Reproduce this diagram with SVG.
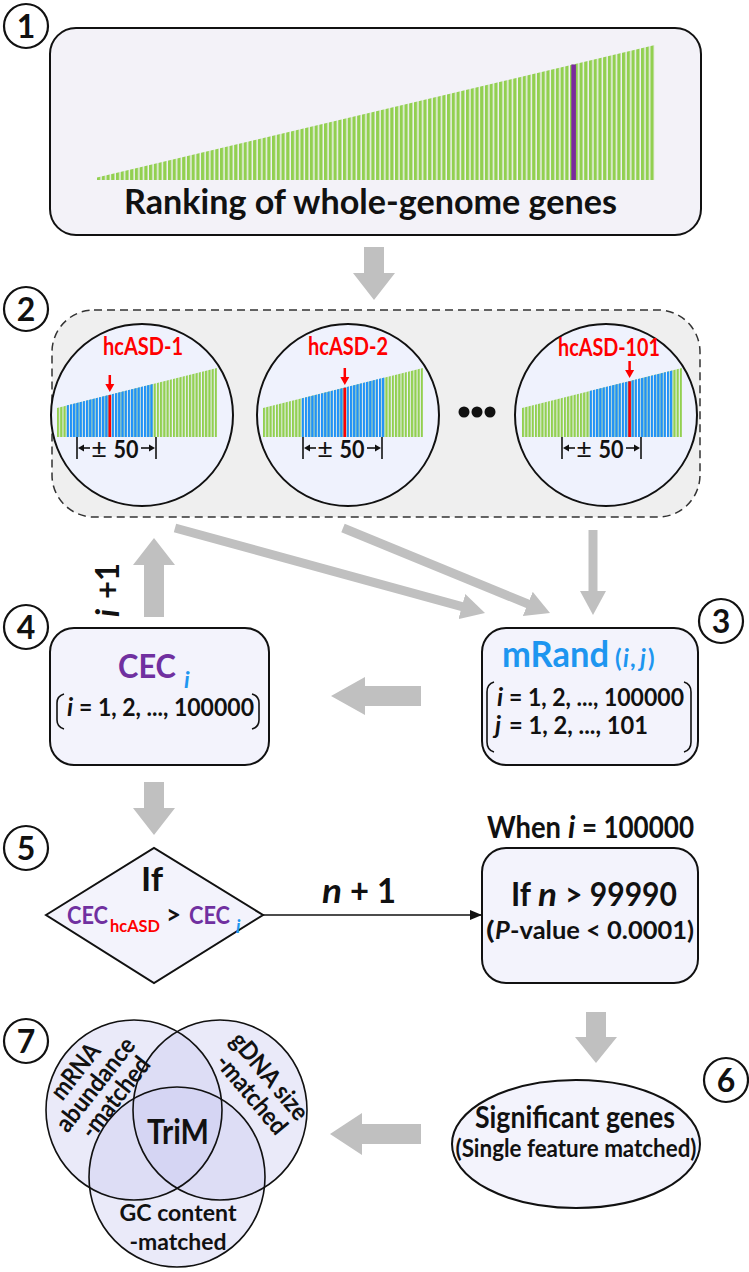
<svg xmlns="http://www.w3.org/2000/svg" width="749" height="1272" viewBox="0 0 749 1272">
<defs>
<style>
.t{font-family:Lato,"Liberation Sans",sans-serif;font-weight:700;fill:#111}
.num{font-size:32px;text-anchor:middle}
.nc{fill:#fff;stroke:#111;stroke-width:2.2}
.box{fill:#f3f3fc;stroke:#111;stroke-width:2}
.mag{fill:#eff2fd;stroke:#111;stroke-width:2}
.ga{fill:#c0c0c0}
.gl{stroke:#c0c0c0;stroke-width:9;fill:none}
.br{fill:none;stroke:#111;stroke-width:1.6}
.tk{stroke:#111;stroke-width:1.6}
.it{font-style:italic}
.pur{fill:#7030a0}
.blu{fill:#1e96f0}
.rd{fill:#ff0000}
.mid{text-anchor:middle}
.pm{font-family:Lato,"Liberation Sans",sans-serif;font-weight:400;fill:#111;text-anchor:middle}
.vf{fill:#c8c8f0;fill-opacity:0.38}
.vs{fill:none;stroke:#111;stroke-width:1.6}
</style>
<pattern id="pTop" patternUnits="userSpaceOnUse" x="97" y="0" width="4.73" height="20"><rect x="0" y="0" width="3.3" height="20" fill="#92d050"/></pattern>
<pattern id="pG" patternUnits="userSpaceOnUse" x="0" y="0" width="3.22" height="20"><rect x="0" y="0" width="2.2" height="20" fill="#92d050"/></pattern>
<pattern id="pB" patternUnits="userSpaceOnUse" x="0" y="0" width="3.22" height="20"><rect x="0" y="0" width="2.2" height="20" fill="#1e90ff"/></pattern>
<marker id="mg" markerUnits="userSpaceOnUse" markerWidth="26" markerHeight="26" refX="4" refY="13" orient="auto"><path d="M0,0 L24,13 L0,26 z" fill="#c0c0c0"/></marker>
<marker id="mb" markerUnits="userSpaceOnUse" markerWidth="12" markerHeight="10" refX="12" refY="5" orient="auto"><path d="M0,0 L12,5 L0,10 z" fill="#111"/></marker>
</defs>

<!-- Step 1 panel -->
<g id="panel1">
<rect x="50" y="28" width="651" height="207" rx="26" fill="#f3f2f8" stroke="#111" stroke-width="2"/>
<polygon points="97,180 97,177.5 655,45 655,180" fill="url(#pTop)"/>
<rect x="571.3" y="64.5" width="4.6" height="115.5" fill="#7a2a9e"/>
<text class="t" x="124" y="214" font-size="35" textLength="493" lengthAdjust="spacingAndGlyphs">Ranking of whole-genome genes</text>
</g>

<!-- Step 2 panel -->
<g id="panel2">
<rect x="52" y="310" width="648" height="207" rx="42" fill="#efefef" stroke="#333" stroke-width="1.5" stroke-dasharray="8,5"/>
</g>

<g id="mag1">
<circle class="mag" cx="142" cy="415" r="91"/>
<g transform="translate(57,0)">
<polygon points="0,437 0,408 160,368 160,437" fill="url(#pG)"/>
<polygon points="9.5,437 9.5,405.6 96,384 96,437" fill="url(#pB)"/>
<rect x="51.5" y="395.1" width="2.6" height="41.9" fill="#ff0000"/>
</g>
<line x1="109.8" y1="375" x2="109.8" y2="385" stroke="#ff0000" stroke-width="2.5"/>
<polygon points="105.3,384 114.3,384 109.8,392" fill="#ff0000"/>
<text class="t rd mid" x="143" y="355" font-size="24" textLength="80" lengthAdjust="spacingAndGlyphs">hcASD-1</text>
<g transform="translate(77,0)">
<line class="tk" x1="0" y1="437" x2="0" y2="459"/>
<line class="tk" x1="5" y1="448" x2="13" y2="448"/>
<polygon points="1,448 7,444.5 7,451.5" fill="#111"/>
<text class="pm" x="22" y="458" font-size="27">±</text>
<text class="t mid" x="49" y="458" font-size="24" textLength="25" lengthAdjust="spacingAndGlyphs">50</text>
<line class="tk" x1="64" y1="448" x2="72" y2="448"/>
<polygon points="78,448 72,444.5 72,451.5" fill="#111"/>
<line class="tk" x1="79" y1="437" x2="79" y2="459"/>
</g>
</g>

<g id="mag2">
<circle class="mag" cx="348" cy="415" r="91"/>
<g transform="translate(263,0)">
<polygon points="0,437 0,408 160,368 160,437" fill="url(#pG)"/>
<polygon points="38.5,437 38.5,398.4 121.5,377.6 121.5,437" fill="url(#pB)"/>
<rect x="80.5" y="387.9" width="2.6" height="49.1" fill="#ff0000"/>
</g>
<line x1="344.8" y1="368" x2="344.8" y2="378" stroke="#ff0000" stroke-width="2.5"/>
<polygon points="340.3,377 349.3,377 344.8,385" fill="#ff0000"/>
<text class="t rd mid" x="348" y="355" font-size="24" textLength="80" lengthAdjust="spacingAndGlyphs">hcASD-2</text>
<g transform="translate(303,0)">
<line class="tk" x1="0" y1="437" x2="0" y2="459"/>
<line class="tk" x1="5" y1="448" x2="13" y2="448"/>
<polygon points="1,448 7,444.5 7,451.5" fill="#111"/>
<text class="pm" x="22" y="458" font-size="27">±</text>
<text class="t mid" x="49" y="458" font-size="24" textLength="25" lengthAdjust="spacingAndGlyphs">50</text>
<line class="tk" x1="64" y1="448" x2="72" y2="448"/>
<polygon points="78,448 72,444.5 72,451.5" fill="#111"/>
<line class="tk" x1="79" y1="437" x2="79" y2="459"/>
</g>
</g>

<g id="ellipsis">
<circle cx="464" cy="412" r="5.5" fill="#111"/>
<circle cx="477" cy="412" r="5.5" fill="#111"/>
<circle cx="490" cy="412" r="5.5" fill="#111"/>
</g>

<g id="mag3">
<circle class="mag" cx="606" cy="415" r="91"/>
<g transform="translate(522,0)">
<polygon points="0,437 0,408 160,368 160,437" fill="url(#pG)"/>
<polygon points="67.5,437 67.5,391.1 150.5,370.4 150.5,437" fill="url(#pB)"/>
<rect x="106.3" y="381.4" width="2.6" height="55.6" fill="#ff0000"/>
</g>
<line x1="629.6" y1="361" x2="629.6" y2="371" stroke="#ff0000" stroke-width="2.5"/>
<polygon points="625.1,370 634.1,370 629.6,378" fill="#ff0000"/>
<text class="t rd mid" x="609" y="356" font-size="24" textLength="102" lengthAdjust="spacingAndGlyphs">hcASD-101</text>
<g transform="translate(562,0)">
<line class="tk" x1="0" y1="437" x2="0" y2="459"/>
<line class="tk" x1="5" y1="448" x2="13" y2="448"/>
<polygon points="1,448 7,444.5 7,451.5" fill="#111"/>
<text class="pm" x="22" y="458" font-size="27">±</text>
<text class="t mid" x="49" y="458" font-size="24" textLength="25" lengthAdjust="spacingAndGlyphs">50</text>
<line class="tk" x1="64" y1="448" x2="72" y2="448"/>
<polygon points="78,448 72,444.5 72,451.5" fill="#111"/>
<line class="tk" x1="79" y1="437" x2="79" y2="459"/>
</g>
</g>

<!-- Step 3 box -->
<g id="box-mrand">
<rect class="box" x="482" y="628" width="216" height="137" rx="24"/>
<text class="t blu" x="502" y="667" font-size="36" textLength="107" lengthAdjust="spacingAndGlyphs">mRand</text>
<text class="t blu" x="615" y="667" font-size="24">(</text>
<text class="t blu it" x="623" y="667" font-size="24">i</text>
<text class="t blu" x="630" y="667" font-size="24">,</text>
<text class="t blu it" x="640" y="667" font-size="24">j</text>
<text class="t blu" x="648" y="667" font-size="24">)</text>
<path class="br" d="M494,682 Q487,684 487,692 L487,742 Q487,750 494,752"/>
<path class="br" d="M684,682 Q691,684 691,692 L691,742 Q691,750 684,752"/>
<text class="t it" x="497" y="706" font-size="25">i</text>
<text class="t" x="509" y="706" font-size="25" textLength="175" lengthAdjust="spacingAndGlyphs">= 1, 2, ..., 100000</text>
<text class="t it" x="495" y="734" font-size="25">j</text>
<text class="t" x="509" y="734" font-size="25" textLength="139" lengthAdjust="spacingAndGlyphs">= 1, 2, ..., 101</text>
</g>

<!-- Step 4 box -->
<g id="box-cec">
<rect class="box" x="50" y="628" width="219" height="137" rx="24"/>
<text class="t pur" x="118" y="678" font-size="33" textLength="58" lengthAdjust="spacingAndGlyphs">CEC</text>
<text class="t blu it" x="184" y="688" font-size="23">i</text>
<path class="br" d="M64,694 Q57,696 57,703 L57,720 Q57,727 64,729"/>
<path class="br" d="M252,694 Q259,696 259,703 L259,720 Q259,727 252,729"/>
<text class="t it" x="67" y="716" font-size="25">i</text>
<text class="t" x="79" y="716" font-size="25" textLength="175" lengthAdjust="spacingAndGlyphs">= 1, 2, ..., 100000</text>
</g>

<!-- Step 5 decision -->
<g id="decision">
<polygon points="46,915 154,848 263,915 154,983" fill="#f3f3fc" stroke="#111" stroke-width="2"/>
<text class="t mid" x="152" y="891" font-size="33" textLength="22" lengthAdjust="spacingAndGlyphs">If</text>
<text class="t pur" x="67" y="924" font-size="24" textLength="41" lengthAdjust="spacingAndGlyphs">CEC</text>
<text class="t rd" x="110" y="932" font-size="17" textLength="50" lengthAdjust="spacingAndGlyphs">hcASD</text>
<text class="t" x="166" y="924" font-size="26">&gt;</text>
<text class="t pur" x="189" y="924" font-size="24" textLength="41" lengthAdjust="spacingAndGlyphs">CEC</text>
<text class="t blu it" x="236" y="933" font-size="18">i</text>
</g>

<!-- When / If n box -->
<g id="box-threshold">
<text class="t" x="487" y="838" font-size="30" textLength="74" lengthAdjust="spacingAndGlyphs">When</text>
<text class="t it" x="568" y="838" font-size="30">i</text>
<text class="t" x="582" y="838" font-size="30" textLength="112" lengthAdjust="spacingAndGlyphs">= 100000</text>
<rect class="box" x="482" y="848" width="216" height="135" rx="24"/>
<text class="t" x="511" y="906" font-size="33" textLength="20" lengthAdjust="spacingAndGlyphs">If</text>
<text class="t it" x="538" y="906" font-size="33" textLength="19" lengthAdjust="spacingAndGlyphs">n</text>
<text class="t" x="565" y="906" font-size="33" textLength="112" lengthAdjust="spacingAndGlyphs">&gt; 99990</text>
<text class="t" x="486" y="939" font-size="24" textLength="8.7" lengthAdjust="spacingAndGlyphs">(</text>
<text class="t it" x="495" y="939" font-size="24" textLength="14.8" lengthAdjust="spacingAndGlyphs">P</text>
<text class="t" x="510" y="939" font-size="24" textLength="184" lengthAdjust="spacingAndGlyphs">-value &lt; 0.0001)</text>
</g>

<!-- Step 6 -->
<g id="significant">
<ellipse cx="576" cy="1144" rx="124" ry="64" fill="#f3f3fc" stroke="#111" stroke-width="2"/>
<text class="t mid" x="575" y="1128" font-size="30" textLength="200" lengthAdjust="spacingAndGlyphs">Significant genes</text>
<text class="t mid" x="576" y="1157" font-size="24" textLength="241" lengthAdjust="spacingAndGlyphs">(Single feature matched)</text>
</g>

<!-- Step 7 Venn -->
<g id="venn">
<ellipse class="vf" cx="134" cy="1110" rx="88" ry="90"/>
<ellipse class="vf" cx="220" cy="1110" rx="87" ry="90"/>
<ellipse class="vf" cx="177" cy="1177" rx="88" ry="90"/>
<ellipse class="vs" cx="134" cy="1110" rx="88" ry="90"/>
<ellipse class="vs" cx="220" cy="1110" rx="87" ry="90"/>
<ellipse class="vs" cx="177" cy="1177" rx="88" ry="90"/>
<text class="t mid" x="178" y="1144" font-size="34" textLength="62" lengthAdjust="spacingAndGlyphs">TriM</text>
<g transform="translate(75,1071) rotate(-52)"><text class="t mid" x="0" y="9" font-size="25" textLength="64" lengthAdjust="spacingAndGlyphs">mRNA</text></g>
<g transform="translate(95,1084) rotate(-52)"><text class="t mid" x="0" y="9" font-size="25" textLength="112" lengthAdjust="spacingAndGlyphs">abundance</text></g>
<g transform="translate(115,1097) rotate(-52)"><text class="t mid" x="0" y="9" font-size="25" textLength="96" lengthAdjust="spacingAndGlyphs">-matched</text></g>
<g transform="translate(270,1076) rotate(50)"><text class="t mid" x="0" y="9" font-size="25" textLength="106" lengthAdjust="spacingAndGlyphs">gDNA size</text></g>
<g transform="translate(252,1094) rotate(50)"><text class="t mid" x="0" y="9" font-size="25" textLength="96" lengthAdjust="spacingAndGlyphs">-matched</text></g>
<text class="t mid" x="178" y="1221" font-size="23" textLength="117" lengthAdjust="spacingAndGlyphs">GC content</text>
<text class="t mid" x="178" y="1250" font-size="23" textLength="97" lengthAdjust="spacingAndGlyphs">-matched</text>
</g>

<!-- Step numbers -->
<g id="n1"><circle class="nc" cx="26" cy="26" r="22"/><text class="t num" x="26" y="37.5">1</text></g>
<g id="n2"><circle class="nc" cx="26" cy="309" r="22"/><text class="t num" x="26" y="320.5">2</text></g>
<g id="n3"><circle class="nc" cx="721" cy="621" r="22"/><text class="t num" x="721" y="632.5">3</text></g>
<g id="n4"><circle class="nc" cx="26" cy="627" r="22"/><text class="t num" x="26" y="638.5">4</text></g>
<g id="n5"><circle class="nc" cx="26" cy="848" r="22"/><text class="t num" x="26" y="859.5">5</text></g>
<g id="n6"><circle class="nc" cx="726" cy="1080" r="22"/><text class="t num" x="726" y="1091.5">6</text></g>
<g id="n7"><circle class="nc" cx="26" cy="1041" r="22"/><text class="t num" x="26" y="1052.5">7</text></g>

<!-- Connectors -->
<g id="connectors">
<polygon class="ga" points="364,247 384,247 384,273 395,273 374,300 353,273 364,273"/>
<line class="gl" x1="175" y1="528" x2="465.7" y2="607.7" marker-end="url(#mg)"/>
<line class="gl" x1="343" y1="528" x2="531.5" y2="605.4" marker-end="url(#mg)"/>
<line class="gl" x1="593" y1="530" x2="593" y2="595" stroke-width="8" marker-end="url(#mg)"/>
<polygon class="ga" points="144,617 164,617 164,565 175,565 154,538 133,565 144,565"/>
<polygon class="ga" points="421,686 421,706 365,706 365,715 331,696 365,677 365,686"/>
<polygon class="ga" points="144,782 164,782 164,808 175,808 154,835 133,808 144,808"/>
<line x1="263" y1="915" x2="482" y2="915" stroke="#111" stroke-width="1.6" marker-end="url(#mb)"/>
<polygon class="ga" points="586,1012 606,1012 606,1037 617,1037 596,1063 575,1037 586,1037"/>
<polygon class="ga" points="421,1124 421,1144 362,1144 362,1155 330,1134 362,1113 362,1124"/>
<g transform="translate(119,590) rotate(-90)">
<text class="t it" x="-27" y="0" font-size="33">i</text>
<text class="t" x="-9" y="0" font-size="33" textLength="36" lengthAdjust="spacingAndGlyphs">+1</text>
</g>
<text class="t it" x="322" y="903" font-size="35" textLength="20" lengthAdjust="spacingAndGlyphs">n</text>
<text class="t" x="350" y="903" font-size="35" textLength="46" lengthAdjust="spacingAndGlyphs">+ 1</text>
</g>
</svg>
